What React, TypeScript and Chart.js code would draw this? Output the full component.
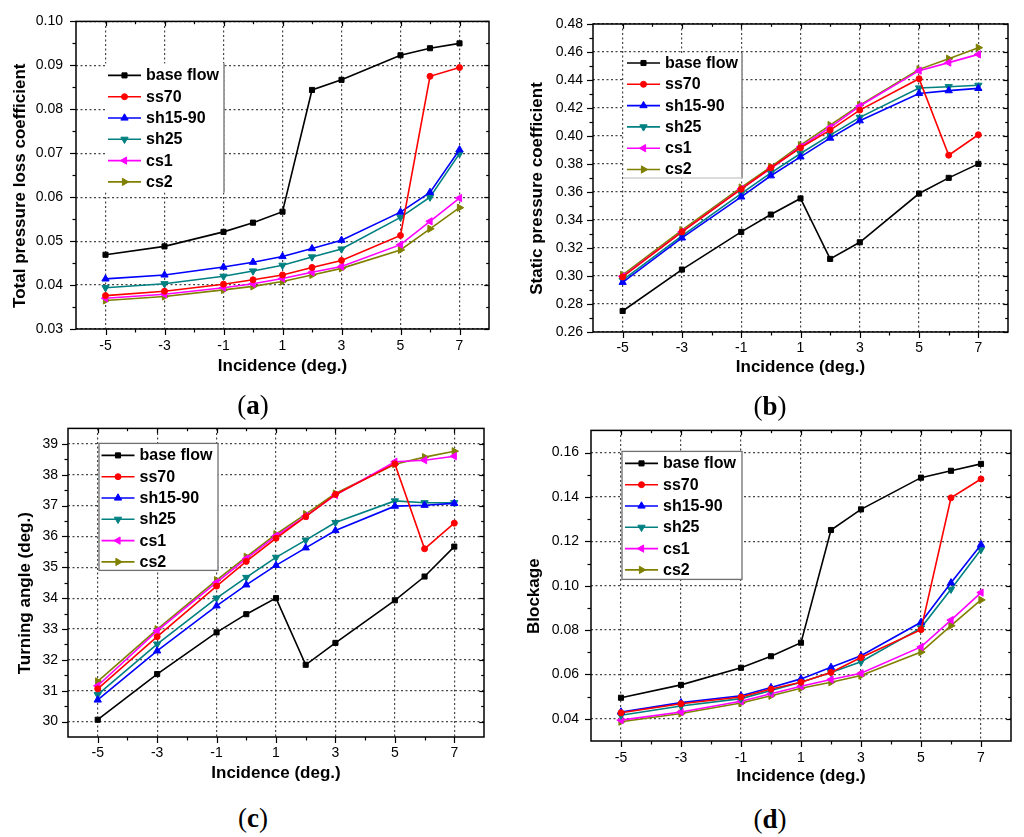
import { useEffect, useRef } from 'react';
import { Chart, registerables } from 'chart.js';
import { drawPoint } from 'chart.js/helpers';

Chart.register(...registerables);

const SANS = '"Liberation Sans", Arial, sans-serif';
Chart.defaults.font.family = SANS;

// incidence angles (deg.) shared by every panel
const INCIDENCE = [-5, -3, -1, 0, 1, 2, 3, 5, 6, 7];
const X_TICKS = [-5, -3, -1, 1, 3, 5, 7];
const SERIES_NAMES = ['base flow', 'ss70', 'sh15-90', 'sh25', 'cs1', 'cs2'];

// (a) total pressure loss coefficient
const LOSS_BASE = [0.0469, 0.0488, 0.0521, 0.0542, 0.0567, 0.0844, 0.0867, 0.0923, 0.0939, 0.095];
const LOSS_SS70 = [0.0376, 0.0386, 0.0402, 0.0412, 0.0423, 0.044, 0.0456, 0.0513, 0.0875, 0.0895];
const LOSS_SH1590 = [0.0414, 0.0423, 0.0441, 0.0452, 0.0465, 0.0483, 0.0502, 0.0566, 0.0611, 0.0708];
const LOSS_SH25 = [0.0394, 0.0403, 0.042, 0.0432, 0.0445, 0.0464, 0.0482, 0.0554, 0.06, 0.0699];
const LOSS_CS1 = [0.037, 0.0379, 0.0394, 0.0403, 0.0415, 0.0429, 0.0442, 0.0492, 0.0545, 0.0598];
const LOSS_CS2 = [0.0365, 0.0374, 0.0389, 0.0397, 0.0408, 0.0423, 0.0438, 0.048, 0.0528, 0.0576];
const LOSS_TICKS = [0.03, 0.04, 0.05, 0.06, 0.07, 0.08, 0.09, 0.1];

// (b) static pressure coefficient
const SP_BASE = [0.275, 0.3046, 0.3315, 0.3439, 0.3554, 0.3122, 0.3241, 0.3589, 0.3701, 0.3801];
const SP_SS70 = [0.2993, 0.3315, 0.362, 0.3773, 0.3916, 0.4042, 0.4185, 0.4409, 0.3863, 0.4009];
const SP_SH1590 = [0.2955, 0.3272, 0.3565, 0.3716, 0.3851, 0.3985, 0.4109, 0.4304, 0.4324, 0.434];
const SP_SH25 = [0.297, 0.3287, 0.3589, 0.3737, 0.3875, 0.4006, 0.4133, 0.4343, 0.4352, 0.4362];
const SP_CS1 = [0.2998, 0.3315, 0.3622, 0.3768, 0.3923, 0.4061, 0.4214, 0.4467, 0.4524, 0.4583];
const SP_CS2 = [0.3008, 0.3327, 0.3632, 0.378, 0.3935, 0.4078, 0.4221, 0.4476, 0.4552, 0.4631];
const SP_TICKS = [0.26, 0.28, 0.3, 0.32, 0.34, 0.36, 0.38, 0.4, 0.42, 0.44, 0.46, 0.48];

// (c) turning angle (deg.)
const TA_BASE = [30.06, 31.54, 32.89, 33.48, 34.0, 31.84, 32.55, 33.93, 34.7, 35.67];
const TA_SS70 = [31.06, 32.75, 34.39, 35.19, 35.94, 36.64, 37.36, 38.35, 35.6, 36.43];
const TA_SH1590 = [30.7, 32.29, 33.75, 34.43, 35.06, 35.63, 36.19, 36.98, 37.01, 37.07];
const TA_SH25 = [30.87, 32.51, 34.0, 34.67, 35.32, 35.88, 36.45, 37.15, 37.09, 37.09];
const TA_CS1 = [31.16, 32.94, 34.51, 35.28, 36.02, 36.66, 37.34, 38.42, 38.47, 38.6];
const TA_CS2 = [31.3, 32.99, 34.58, 35.34, 36.07, 36.72, 37.39, 38.34, 38.57, 38.76];
const TA_TICKS = [30, 31, 32, 33, 34, 35, 36, 37, 38, 39];

// (d) blockage
const BL_BASE = [0.0495, 0.0553, 0.063, 0.0682, 0.0743, 0.1251, 0.1344, 0.1487, 0.1518, 0.1549];
const BL_SS70 = [0.0427, 0.0468, 0.0498, 0.0534, 0.0565, 0.0609, 0.0676, 0.0802, 0.1396, 0.1481];
const BL_SH1590 = [0.0431, 0.0473, 0.0504, 0.0541, 0.058, 0.0632, 0.0684, 0.0835, 0.1013, 0.1185];
const BL_SH25 = [0.0416, 0.0458, 0.0491, 0.0528, 0.0565, 0.0609, 0.0657, 0.081, 0.0984, 0.1163];
const BL_CS1 = [0.0394, 0.0431, 0.0479, 0.0513, 0.0547, 0.0577, 0.0605, 0.0724, 0.0845, 0.0969];
const BL_CS2 = [0.0387, 0.0424, 0.0471, 0.0504, 0.0538, 0.0565, 0.0595, 0.0701, 0.082, 0.0936];
const BL_TICKS = [0.04, 0.06, 0.08, 0.1, 0.12, 0.14, 0.16];

const SERIES_STYLE = [
  { color: '#000000', point: 'rect', rotation: 0, radius: 3.6 },
  { color: '#ff0000', point: 'circle', rotation: 0, radius: 3 },
  { color: '#0000ff', point: 'triangle', rotation: 0, radius: 4.2 },
  { color: '#008080', point: 'triangle', rotation: 180, radius: 4.2 },
  { color: '#ff00ff', point: 'triangle', rotation: 270, radius: 4.2 },
  { color: '#808000', point: 'triangle', rotation: 90, radius: 4.2 },
];

type Box = { left: number; top: number; w: number; h: number };
type Rect = { l: number; t: number; r: number; b: number };
type LegendBox = { x: number; y: number; w: number; h: number; row0: number; lineX: number; border: string };

interface PanelConfig {
  label: string;
  labelPos: [number, number];
  yTitle: string;
  series: number[][];
  yMin: number;
  yMax: number;
  yTicks: number[];
  decimals: number;
  canvas: Box;
  plot: Rect;
  yTitleX: number;
  xAxisH: number;
  xLabelPad: number;
  yLabelPad: number;
  legend: LegendBox;
}

const PANELS: PanelConfig[] = [
  {
    label: 'a', labelPos: [253, 406], yTitle: 'Total pressure loss coefficient',
    series: [LOSS_BASE, LOSS_SS70, LOSS_SH1590, LOSS_SH25, LOSS_CS1, LOSS_CS2],
    yMin: 0.03, yMax: 0.1, yTicks: LOSS_TICKS, decimals: 2,
    canvas: { left: 0, top: 0, w: 512, h: 380 }, plot: { l: 76, t: 21, r: 489, b: 329 },
    yTitleX: 20, xAxisH: 48, xLabelPad: 9, yLabelPad: 13,
    legend: { x: 29, y: 42, w: 119, h: 129, row0: 12, lineX: 3, border: 'right' },
  },
  {
    label: 'b', labelPos: [770, 407], yTitle: 'Static pressure coefficient',
    series: [SP_BASE, SP_SS70, SP_SH1590, SP_SH25, SP_CS1, SP_CS2],
    yMin: 0.26, yMax: 0.48, yTicks: SP_TICKS, decimals: 2,
    canvas: { left: 512, top: 0, w: 512, h: 380 }, plot: { l: 593, t: 24, r: 1008, b: 332 },
    yTitleX: 537, xAxisH: 46, xLabelPad: 8, yLabelPad: 10,
    legend: { x: 31, y: 29, w: 118, h: 125, row0: 10, lineX: 3, border: 'rightBottom' },
  },
  {
    label: 'c', labelPos: [253, 819], yTitle: 'Turning angle (deg.)',
    series: [TA_BASE, TA_SS70, TA_SH1590, TA_SH25, TA_CS1, TA_CS2],
    yMin: 29.5, yMax: 39.5, yTicks: TA_TICKS, decimals: 0,
    canvas: { left: 0, top: 410, w: 512, h: 380 }, plot: { l: 68, t: 427, r: 484, b: 737 },
    yTitleX: 25, xAxisH: 47, xLabelPad: 8, yLabelPad: 10,
    legend: { x: 31, y: 15, w: 119, h: 127, row0: 12, lineX: 2.5, border: 'all' },
  },
  {
    label: 'd', labelPos: [770, 820], yTitle: 'Blockage',
    series: [BL_BASE, BL_SS70, BL_SH1590, BL_SH25, BL_CS1, BL_CS2],
    yMin: 0.03, yMax: 0.17, yTicks: BL_TICKS, decimals: 2,
    canvas: { left: 512, top: 410, w: 512, h: 380 }, plot: { l: 591, t: 427, r: 1011, b: 741 },
    yTitleX: 534, xAxisH: 46, xLabelPad: 9, yLabelPad: 12,
    legend: { x: 31, y: 21, w: 120, h: 128, row0: 12, lineX: 3, border: 'all' },
  },
];

function minorsOf(ticks: number[], min: number, max: number): number[] {
  const out: number[] = [];
  for (let i = 0; i < ticks.length - 1; i++) out.push((ticks[i] + ticks[i + 1]) / 2);
  const half = (ticks[1] - ticks[0]) / 2;
  if (ticks[0] - half > min + 1e-9) out.push(ticks[0] - half);
  const last = ticks[ticks.length - 1];
  if (last + half < max - 1e-9) out.push(last + half);
  return out;
}

function Panel({ cfg }: { cfg: PanelConfig }) {
  const canvasRef = useRef<HTMLCanvasElement>(null);

  useEffect(() => {
    if (!canvasRef.current) return;
    const { canvas, plot, legend } = cfg;
    const yAxisW = plot.l - canvas.left;

    const seg = (ctx: CanvasRenderingContext2D, x1: number, y1: number, x2: number, y2: number) => {
      ctx.beginPath();
      ctx.moveTo(x1, y1);
      ctx.lineTo(x2, y2);
      ctx.stroke();
    };

    const originFrame = {
      id: 'originFrame',
      afterDatasetsDraw(chart: any) {
        const { ctx, chartArea: a, scales } = chart;
        const { x, y } = scales;
        ctx.save();
        ctx.setLineDash([]);

        // legend box inside the plot
        const bx = a.left + legend.x;
        const by = a.top + legend.y;
        ctx.fillStyle = '#ffffff';
        ctx.fillRect(bx, by, legend.w, legend.h);
        ctx.strokeStyle = '#6f6f6f';
        ctx.lineWidth = 1.3;
        if (legend.border === 'all') {
          ctx.strokeRect(bx, by, legend.w, legend.h);
        } else {
          seg(ctx, bx + legend.w, by, bx + legend.w, by + legend.h);
          if (legend.border === 'rightBottom') {
            ctx.strokeStyle = '#d0d0d0';
            seg(ctx, bx, by + legend.h, bx + legend.w, by + legend.h);
          }
        }
        chart.data.datasets.forEach((ds: any, i: number) => {
          const st = SERIES_STYLE[i];
          const cy = by + legend.row0 + i * 21.3;
          const lx = bx + legend.lineX;
          ctx.strokeStyle = st.color;
          ctx.lineWidth = 1.6;
          seg(ctx, lx, cy, lx + 33, cy);
          ctx.fillStyle = st.color;
          ctx.lineWidth = 1;
          drawPoint(ctx, { pointStyle: st.point, radius: st.radius, rotation: st.rotation, borderWidth: 1 } as any, lx + 16.5, cy);
          ctx.fillStyle = '#000000';
          ctx.font = `bold 16px ${SANS}`;
          ctx.textAlign = 'left';
          ctx.textBaseline = 'middle';
          ctx.fillText(ds.label, lx + 38, cy + 0.5);
        });

        // frame
        ctx.strokeStyle = '#000000';
        ctx.lineWidth = 1.5;
        ctx.strokeRect(a.left, a.top, a.right - a.left, a.bottom - a.top);

        // tick marks: outward on bottom/left, inward on top/right
        ctx.lineWidth = 1.2;
        const xMin = minorsOf(X_TICKS, -6, 8);
        const yMin = minorsOf(cfg.yTicks, cfg.yMin, cfg.yMax);
        const xMarks = [...X_TICKS.map((v) => [v, 6]), ...xMin.map((v) => [v, 3.5])];
        const yMarks = [...cfg.yTicks.map((v) => [v, 6]), ...yMin.map((v) => [v, 3.5])];
        for (const [v, len] of xMarks) {
          const px = Math.round(x.getPixelForValue(v)) + 0.5;
          seg(ctx, px, a.bottom, px, a.bottom + len);
          seg(ctx, px, a.top, px, a.top + len * 0.8);
        }
        for (const [v, len] of yMarks) {
          const py = Math.round(y.getPixelForValue(v)) + 0.5;
          seg(ctx, a.left, py, a.left - len, py);
          seg(ctx, a.right, py, a.right - len * 0.8, py);
        }

        // y title, sits a little below the plot centre like the original
        ctx.translate(cfg.yTitleX - canvas.left, (a.top + a.bottom) / 2 + 10.5);
        ctx.rotate(-Math.PI / 2);
        ctx.fillStyle = '#000000';
        ctx.font = `bold 17px ${SANS}`;
        ctx.textAlign = 'center';
        ctx.textBaseline = 'middle';
        ctx.fillText(cfg.yTitle, 0, 0);
        ctx.restore();
      },
    };

    // dotted grid like Origin's default
    const grid = { display: true, drawTicks: false, color: 'rgba(70,70,70,1)', lineWidth: 1.2 };
    const gridBorder = { display: false, dash: [2, 2.5] };

    const chart = new Chart(canvasRef.current, {
      type: 'line',
      data: {
        datasets: cfg.series.map((vals, i) => ({
          label: SERIES_NAMES[i],
          data: INCIDENCE.map((xv, j) => ({ x: xv, y: vals[j] })),
          borderColor: SERIES_STYLE[i].color,
          backgroundColor: SERIES_STYLE[i].color,
          borderWidth: 1.6,
          pointStyle: SERIES_STYLE[i].point as any,
          pointRotation: SERIES_STYLE[i].rotation,
          pointRadius: SERIES_STYLE[i].radius,
          pointBorderWidth: 1,
          pointBackgroundColor: SERIES_STYLE[i].color,
          pointBorderColor: SERIES_STYLE[i].color,
          tension: 0,
          fill: false,
        })),
      },
      options: {
        animation: false,
        responsive: true,
        maintainAspectRatio: false,
        layout: {
          padding: {
            left: 0,
            top: plot.t - canvas.top,
            right: canvas.left + canvas.w - plot.r,
            bottom: canvas.top + canvas.h - plot.b - cfg.xAxisH,
          },
        },
        plugins: {
          legend: { display: false },
          tooltip: { enabled: false },
        },
        scales: {
          x: {
            type: 'linear',
            min: -6,
            max: 8,
            afterBuildTicks: (s: any) => {
              s.ticks = X_TICKS.map((v) => ({ value: v }));
            },
            afterFit: (s: any) => {
              s.height = cfg.xAxisH;
            },
            ticks: {
              autoSkip: false,
              maxRotation: 0,
              padding: cfg.xLabelPad,
              color: '#000000',
              font: { size: 14 },
              callback: (v: any) => String(v),
            },
            grid: { ...grid },
            border: { ...gridBorder },
            title: {
              display: true,
              text: 'Incidence (deg.)',
              color: '#000000',
              font: { size: 17, weight: 'bold' },
              padding: 0,
            },
          },
          y: {
            type: 'linear',
            min: cfg.yMin,
            max: cfg.yMax,
            afterBuildTicks: (s: any) => {
              s.ticks = cfg.yTicks.map((v) => ({ value: v }));
            },
            afterFit: (s: any) => {
              s.width = yAxisW;
            },
            ticks: {
              autoSkip: false,
              padding: cfg.yLabelPad,
              color: '#000000',
              font: { size: 14 },
              callback: (v: any) => Number(v).toFixed(cfg.decimals),
            },
            grid: { ...grid },
            border: { ...gridBorder },
          },
        },
      },
      plugins: [originFrame],
    });

    return () => {
      chart.destroy();
    };
  }, [cfg]);

  const { canvas } = cfg;
  return (
    <div style={{ position: 'absolute', left: canvas.left, top: canvas.top, width: canvas.w, height: canvas.h }}>
      <canvas ref={canvasRef} />
    </div>
  );
}

export default function App() {
  return (
    <div style={{ position: 'absolute', left: 0, top: 0, width: 1024, height: 837, background: '#ffffff', overflow: 'hidden' }}>
      {PANELS.map((p) => (
        <Panel key={p.label} cfg={p} />
      ))}
      {PANELS.map((p) => (
        <div
          key={`lbl-${p.label}`}
          style={{
            position: 'absolute',
            left: p.labelPos[0] - 60,
            top: p.labelPos[1] - 16,
            width: 120,
            textAlign: 'center',
            fontFamily: '"Liberation Serif", "Times New Roman", serif',
            fontSize: 27,
            lineHeight: '30px',
            color: '#000000',
          }}
        >
          (<b>{p.label}</b>)
        </div>
      ))}
    </div>
  );
}
